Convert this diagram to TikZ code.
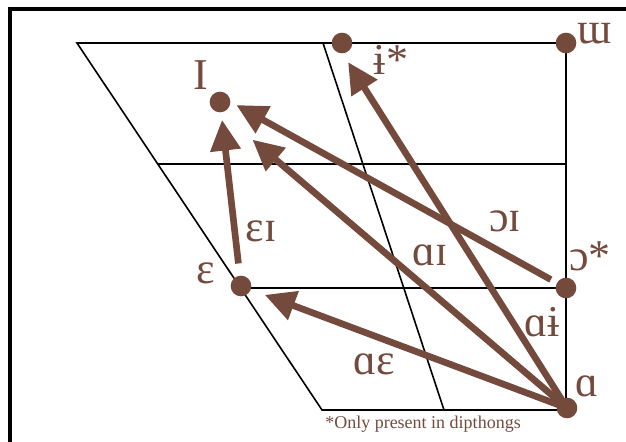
\documentclass[tikz,border=0pt]{standalone}
\usepackage{fontspec}
\setmainfont{Liberation Serif}
\usetikzlibrary{arrows.meta}
\definecolor{vowel}{HTML}{744A3D}

\begin{document}
\begin{tikzpicture}[
    x=0.75pt, y=-0.75pt,
    dot/.style={circle, fill=vowel, inner sep=0pt, minimum size=15.5pt},
    grid/.style={draw=black, line width=1.2pt},
    lbl/.style={text=vowel, font=\fontsize{33}{34}\selectfont, inner sep=0pt},
    arrow/.style={-{Triangle[length=23pt, width=22pt]}, line width=5pt, draw=vowel}
]
\useasboundingbox (0,0) rectangle (626,442);
\draw[line width=3pt] (10,442) -- (10,9.5) -- (626,9.5);
% chart
\draw[grid] (77,43) -- (566,43) -- (566,410) -- (322,410) -- cycle;
\draw[grid] (157.8,164) -- (566,164);
\draw[grid] (240,288) -- (566,288);
\draw[grid] (323,43) -- (444,410);
% vowels
\node[dot] (ih) at (220,102) {};
\node[dot] (ibar) at (342,43) {};
\node[dot] (ww) at (566,43) {};
\node[dot] (eps) at (241,286) {};
\node[dot] (oo) at (566,288) {};
\node[dot] (aa) at (567,408) {};
% dipthongs
\draw[arrow, shorten <=17pt, shorten >=13.5pt] (eps.center) -- (ih.center);
\draw[arrow, shorten <=13pt, shorten >=14pt] (oo.center) -- ([yshift=4.5pt]ih.center);
\draw[arrow, shorten >=32pt] (aa.center) -- ([yshift=-7.5pt]ih.center);
\draw[arrow, shorten >=17pt] (aa.center) -- ([xshift=-4.5pt]ibar.center);
\draw[arrow, shorten >=19pt] (aa.center) -- (eps.center);
% labels
\node[lbl] (l-ih) at (201,75) {I};
\node[lbl] (l-ibar) at (391,60) {ɨ*};
\node[lbl] (l-ww) at (595,34) {ɯ};
\node[lbl] (l-oo) at (590,256) {ɔ*};
\node[lbl] (l-aa) at (587,386) {ɑ};
\node[lbl] (l-eps) at (206,273) {ɛ};
\node[lbl] (l-epsih) at (261,231) {ɛɪ};
\node[lbl] (l-aaih) at (430,255) {ɑɪ};
\node[lbl] (l-ooih) at (505,221) {ɔɪ};
\node[lbl] (l-aaibar) at (542,322) {ɑɨ};
\node[lbl] (l-aaeps) at (374,364) {ɑɛ};
\node[text=vowel, font=\fontsize{13.5}{15}\selectfont, inner sep=0pt] (note) at (423,424) {*Only present in dipthongs};
\end{tikzpicture}
\end{document}
